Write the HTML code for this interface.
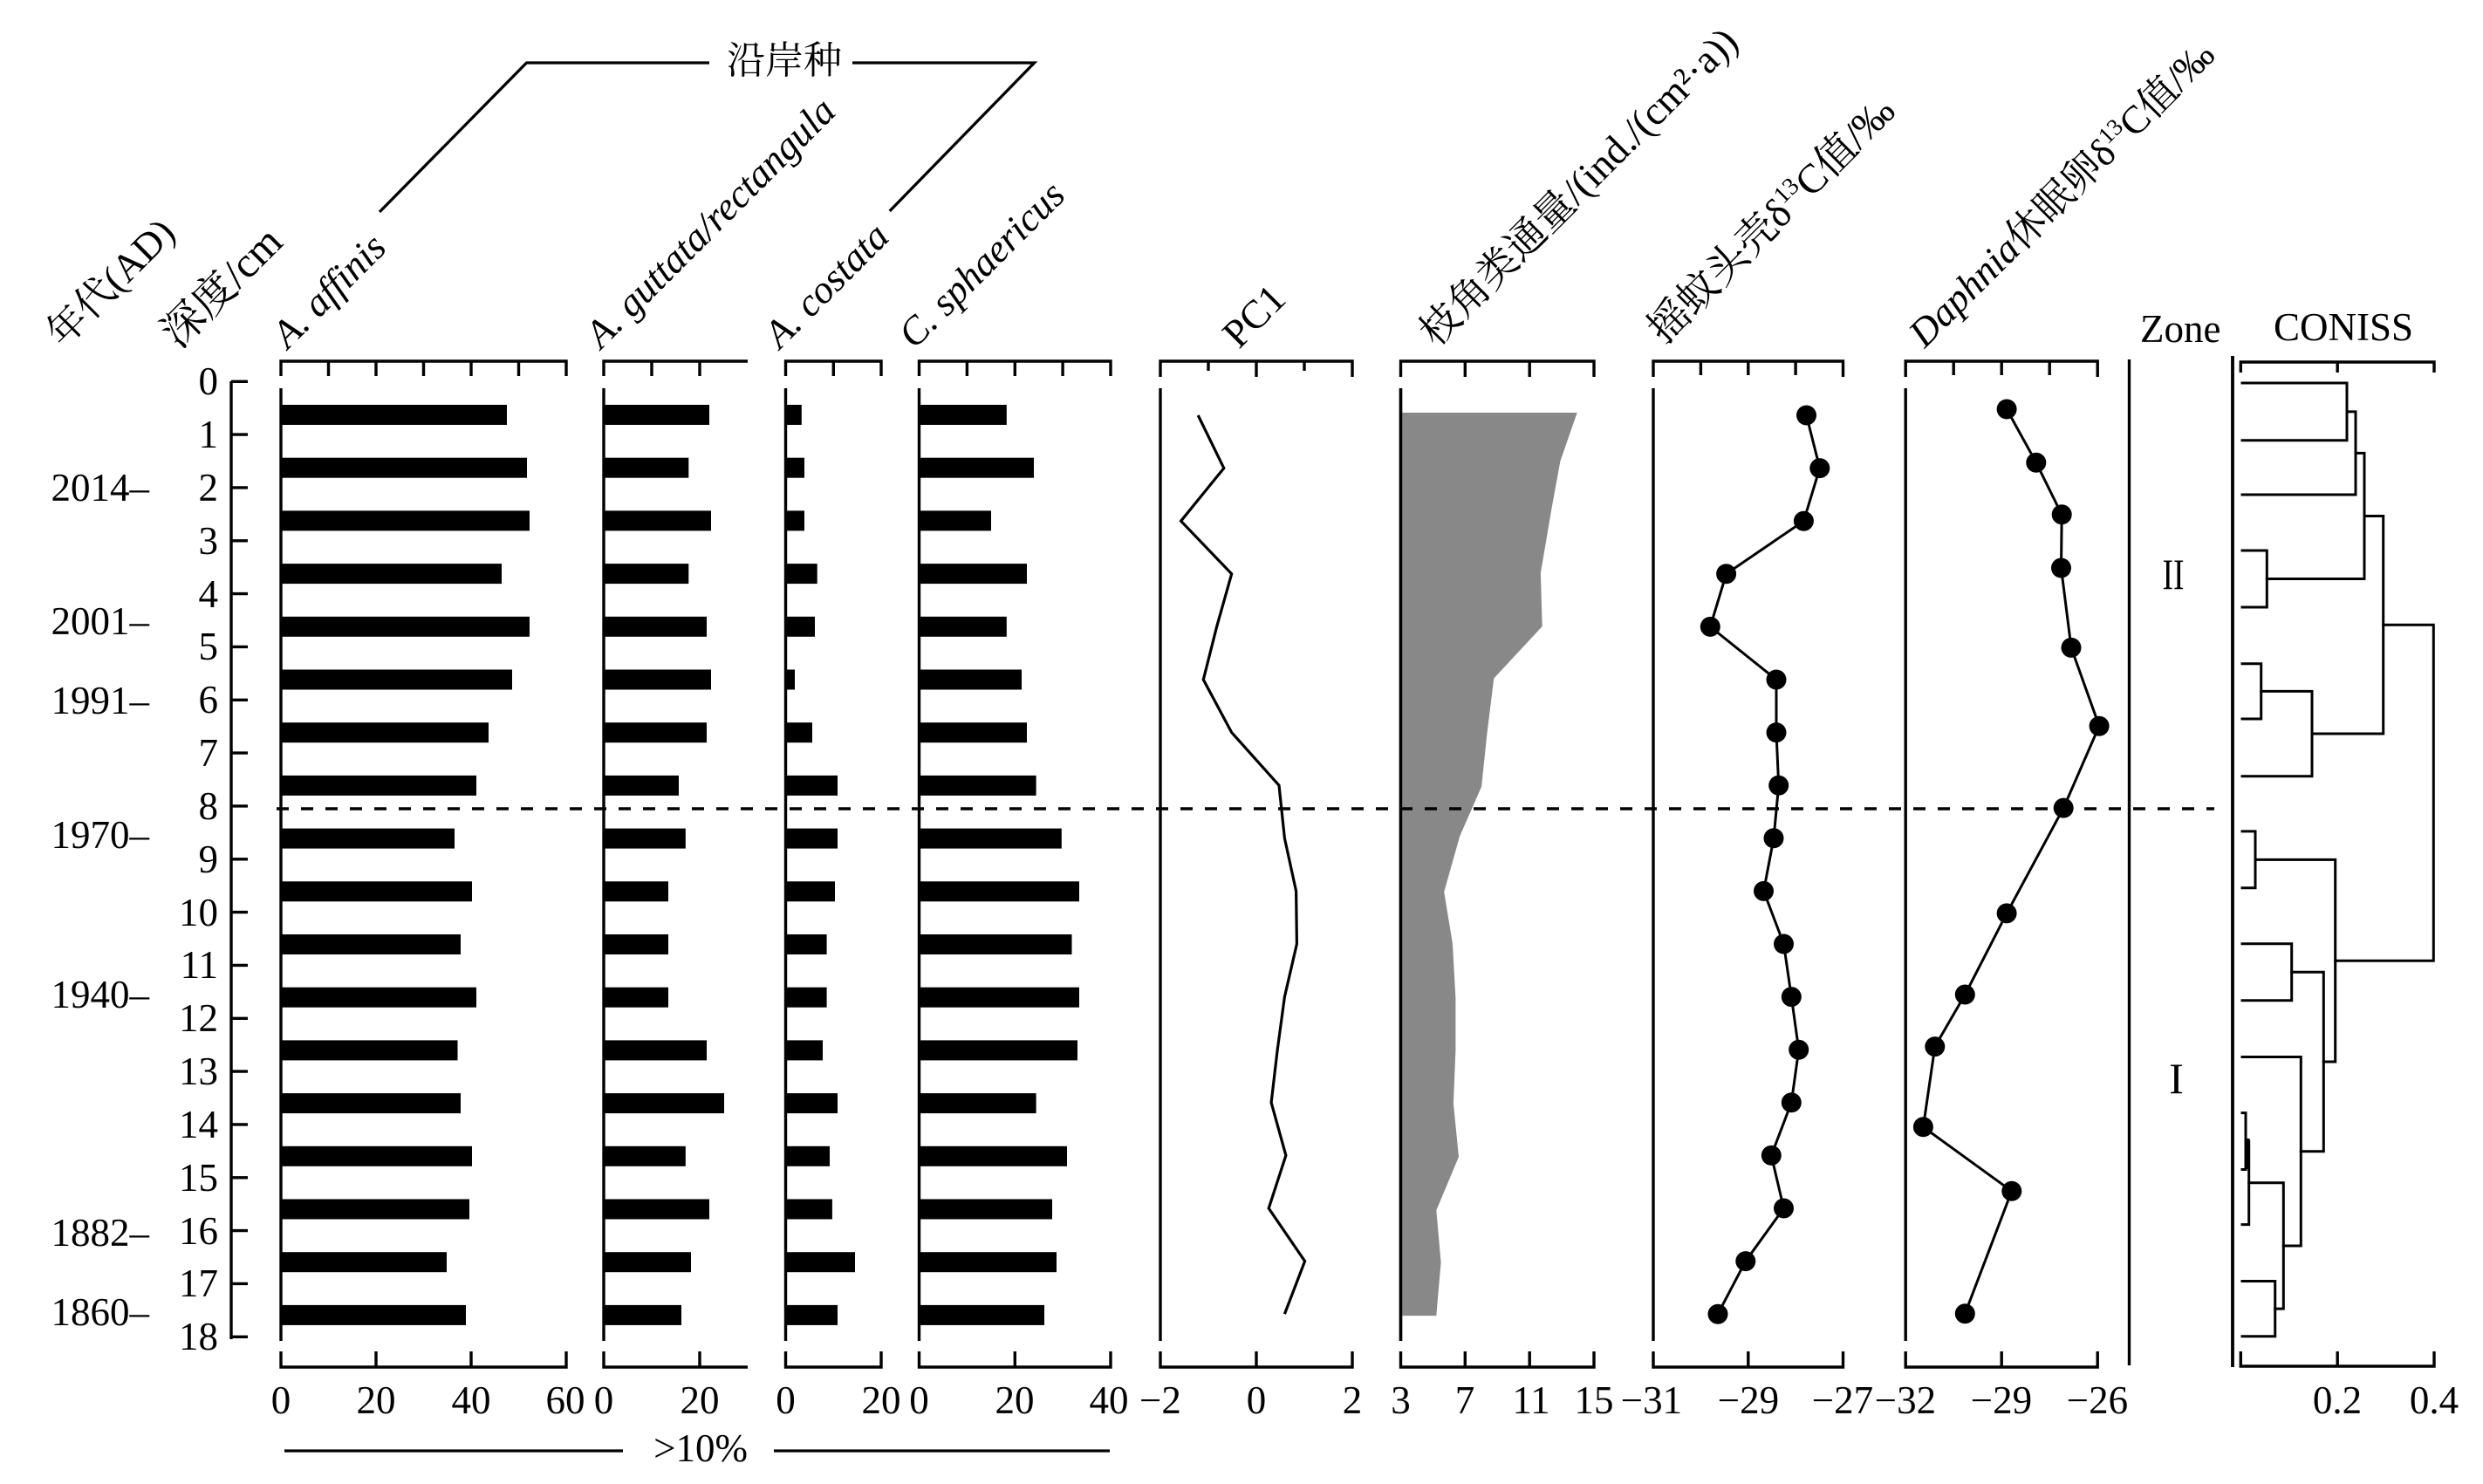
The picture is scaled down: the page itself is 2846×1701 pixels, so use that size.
<!DOCTYPE html>
<html><head><meta charset="utf-8"><style>
html,body{margin:0;padding:0;background:#fff;}
svg{display:block;}
text{font-family:"Liberation Serif","Noto Serif CJK SC",serif;fill:#000;}
</style></head><body>
<svg width="2846" height="1701" viewBox="0 0 2846 1701" xmlns="http://www.w3.org/2000/svg">
<rect width="2846" height="1701" fill="#fff"/>

<!-- 沿岸种 bracket -->
<g stroke="#000" stroke-width="3.3" fill="none">
<polyline points="435,243 603.5,72 813,72"/>
<polyline points="977,72 1185.5,72 1019.7,242"/>
</g>
<text x="899" y="84" font-size="44" text-anchor="middle">沿岸种</text>

<!-- Titles -->
<text transform="translate(72,400) rotate(-45)" font-size="45">年代(AD)</text>
<text transform="translate(205,401) rotate(-45)" font-size="49">深度/cm</text>
<text transform="translate(330,401) rotate(-45)" font-size="45" font-style="italic">A. affinis</text>
<text transform="translate(689,401) rotate(-45)" font-size="45" font-style="italic">A. guttata/rectangula</text>
<text transform="translate(894,401) rotate(-45)" font-size="45" font-style="italic">A. costata</text>
<text transform="translate(1048,401) rotate(-45)" font-size="45" font-style="italic">C. sphaericus</text>
<text transform="translate(1420,401) rotate(-45)" font-size="46">PC1</text>
<text transform="translate(1646,399) rotate(-45)" font-size="46">枝角类通量/(ind./(cm²·a))</text>
<text transform="translate(1908,396) rotate(-45)" font-size="47">摇蚊头壳δ<tspan font-size="28" dy="-18">13</tspan><tspan dy="18">C值/‰</tspan></text>
<text transform="translate(2206,400) rotate(-45)" font-size="45"><tspan font-style="italic">Daphnia</tspan>休眠卵δ<tspan font-size="27" dy="-17">13</tspan><tspan dy="17">C值/‰</tspan></text>
<text x="2453" y="392" font-size="45">Zone</text>
<text x="2606" y="390" font-size="45">CONISS</text>

<!-- Depth axis -->
<g stroke="#000" stroke-width="3.4" fill="none">
<path d="M265 437 V1535"/>
<path d="M265 437.3H284 M265 498.1H284 M265 558.9H284 M265 619.8H284 M265 680.6H284 M265 741.4H284 M265 802.3H284 M265 863.1H284 M265 923.9H284 M265 984.8H284 M265 1045.6H284 M265 1106.4H284 M265 1167.3H284 M265 1228.1H284 M265 1288.9H284 M265 1349.8H284 M265 1410.6H284 M265 1471.4H284 M265 1532.3H284"/>
</g>
<g font-size="45" text-anchor="end">
<text x="250" y="452">0</text><text x="250" y="513">1</text><text x="250" y="574">2</text><text x="250" y="635">3</text>
<text x="250" y="696">4</text><text x="250" y="756">5</text><text x="250" y="817">6</text><text x="250" y="878">7</text>
<text x="250" y="939">8</text><text x="250" y="1000">9</text><text x="250" y="1061">10</text><text x="250" y="1121">11</text>
<text x="250" y="1182">12</text><text x="250" y="1243">13</text><text x="250" y="1304">14</text><text x="250" y="1365">15</text>
<text x="250" y="1426">16</text><text x="250" y="1486">17</text><text x="250" y="1547">18</text>
</g>
<!-- Years -->
<g font-size="45" text-anchor="end">
<text x="171" y="574">2014–</text>
<text x="171" y="727">2001–</text>
<text x="171" y="818">1991–</text>
<text x="171" y="972">1970–</text>
<text x="171" y="1155">1940–</text>
<text x="171" y="1428">1882–</text>
<text x="171" y="1519">1860–</text>
</g>

<!-- Panel frames -->
<g stroke="#000" stroke-width="3.4" fill="none">
<!-- affinis -->
<path d="M322 431 V414 H649 V431 M376.5 414V431 M431 414V431 M485.5 414V431 M540 414V431 M594.5 414V431"/>
<path d="M322 445 V1537"/>
<path d="M322 1549 V1567 H649 V1549 M431 1567V1549 M540 1567V1549"/>
<!-- guttata -->
<path d="M692 431 V414 H857 M747 414V431 M802 414V431"/>
<path d="M692 445 V1537"/>
<path d="M692 1549 V1567 H857 M802 1567V1549"/>
<!-- costata -->
<path d="M900.5 431 V414 H1010 V431 M955.3 414V431"/>
<path d="M900.5 445 V1537"/>
<path d="M900.5 1549 V1567 H1010 V1549"/>
<!-- sphaericus -->
<path d="M1053.5 431 V414 H1273 V431 M1108.4 414V431 M1163.3 414V431 M1218.1 414V431"/>
<path d="M1053.5 445 V1537"/>
<path d="M1053.5 1549 V1567 H1273 V1549 M1163.3 1567V1549"/>
<!-- PC1 -->
<path d="M1330 432 V414 H1550 V432 M1385 414V425 M1440 414V432 M1495 414V425"/>
<path d="M1330 445 V1537"/>
<path d="M1330 1549 V1567 H1550 V1549 M1440 1567V1549"/>
<!-- flux -->
<path d="M1605.5 432 V414 H1827 V432 M1679.3 414V432 M1753.2 414V432"/>
<path d="M1605.5 445 V1537"/>
<path d="M1605.5 1549 V1567 H1827 V1549 M1679.3 1567V1549 M1753.2 1567V1549"/>
<!-- chironomid -->
<path d="M1895 432 V414 H2112.5 V432 M1949.4 414V430 M2003.8 414V430 M2058.1 414V430"/>
<path d="M1895 445 V1537"/>
<path d="M1895 1549 V1567 H2112.5 V1549 M2003.8 1567V1549"/>
<!-- daphnia -->
<path d="M2184.2 432 V414 H2404.2 V432 M2239.2 414V430 M2294.2 414V430 M2349.2 414V430"/>
<path d="M2184.2 445 V1537"/>
<path d="M2184.2 1549 V1567 H2404.2 V1549 M2294.2 1567V1549"/>
<!-- zone -->
<path d="M2440.5 412 V1565"/>
<!-- coniss -->
<path d="M2568.3 427 V415 H2790 V427 M2679.2 415V427"/>
<path d="M2568.3 1549 V1566 H2790 V1549 M2679.2 1566V1549"/>
</g>
<path d="M2559 408 V1567" stroke="#000" stroke-width="3.8"/>

<!-- Bottom tick labels -->
<g font-size="45" text-anchor="middle">
<text x="322" y="1620">0</text><text x="431" y="1620">20</text><text x="540" y="1620">40</text><text x="648" y="1620">60</text>
<text x="692" y="1620">0</text><text x="802" y="1620">20</text>
<text x="900.5" y="1620">0</text><text x="1010" y="1620">20</text>
<text x="1053.5" y="1620">0</text><text x="1163" y="1620">20</text><text x="1271" y="1620">40</text>
<text x="1330" y="1620">−2</text><text x="1440" y="1620">0</text><text x="1550" y="1620">2</text>
<text x="1605.5" y="1620">3</text><text x="1679" y="1620">7</text><text x="1755" y="1620">11</text><text x="1827" y="1620">15</text>
<text x="1893" y="1620">−31</text><text x="2004" y="1620">−29</text><text x="2112" y="1620">−27</text>
<text x="2184" y="1620">−32</text><text x="2294" y="1620">−29</text><text x="2404" y="1620">−26</text>
<text x="2679" y="1620">0.2</text><text x="2790" y="1620">0.4</text>
</g>

<!-- >10% -->
<g stroke="#000" stroke-width="3.3">
<path d="M326 1663 H714 M887 1663 H1272"/>
</g>
<text x="803" y="1675" font-size="45" text-anchor="middle">&gt;10%</text>

<!-- Bars: affinis -->
<g fill="#000">
<rect x="322" y="464" width="259" height="23"/>
<rect x="322" y="524.7" width="282" height="23"/>
<rect x="322" y="585.4" width="285" height="23"/>
<rect x="322" y="646.1" width="253" height="23"/>
<rect x="322" y="706.8" width="285" height="23"/>
<rect x="322" y="767.5" width="265" height="23"/>
<rect x="322" y="828.2" width="238" height="23"/>
<rect x="322" y="888.9" width="224" height="23"/>
<rect x="322" y="949.6" width="199" height="23"/>
<rect x="322" y="1010.3" width="219" height="23"/>
<rect x="322" y="1071" width="206" height="23"/>
<rect x="322" y="1131.7" width="224" height="23"/>
<rect x="322" y="1192.4" width="202.5" height="23"/>
<rect x="322" y="1253.1" width="206" height="23"/>
<rect x="322" y="1313.8" width="219" height="23"/>
<rect x="322" y="1374.5" width="216" height="23"/>
<rect x="322" y="1435.2" width="190" height="23"/>
<rect x="322" y="1495.9" width="212" height="23"/>
<!-- guttata -->
<rect x="692" y="464" width="121" height="23"/>
<rect x="692" y="524.7" width="97.3" height="23"/>
<rect x="692" y="585.4" width="123" height="23"/>
<rect x="692" y="646.1" width="97.3" height="23"/>
<rect x="692" y="706.8" width="118" height="23"/>
<rect x="692" y="767.5" width="123" height="23"/>
<rect x="692" y="828.2" width="118" height="23"/>
<rect x="692" y="888.9" width="86" height="23"/>
<rect x="692" y="949.6" width="93.8" height="23"/>
<rect x="692" y="1010.3" width="74" height="23"/>
<rect x="692" y="1071" width="74" height="23"/>
<rect x="692" y="1131.7" width="74" height="23"/>
<rect x="692" y="1192.4" width="118" height="23"/>
<rect x="692" y="1253.1" width="138" height="23"/>
<rect x="692" y="1313.8" width="93.8" height="23"/>
<rect x="692" y="1374.5" width="121" height="23"/>
<rect x="692" y="1435.2" width="100" height="23"/>
<rect x="692" y="1495.9" width="89" height="23"/>
<!-- costata -->
<rect x="900.5" y="464" width="18.3" height="23"/>
<rect x="900.5" y="524.7" width="21.5" height="23"/>
<rect x="900.5" y="585.4" width="21.5" height="23"/>
<rect x="900.5" y="646.1" width="36.2" height="23"/>
<rect x="900.5" y="706.8" width="33.5" height="23"/>
<rect x="900.5" y="767.5" width="10.5" height="23"/>
<rect x="900.5" y="828.2" width="30.5" height="23"/>
<rect x="900.5" y="888.9" width="59.5" height="23"/>
<rect x="900.5" y="949.6" width="59.5" height="23"/>
<rect x="900.5" y="1010.3" width="56.5" height="23"/>
<rect x="900.5" y="1071" width="47.1" height="23"/>
<rect x="900.5" y="1131.7" width="47.1" height="23"/>
<rect x="900.5" y="1192.4" width="42.5" height="23"/>
<rect x="900.5" y="1253.1" width="59.5" height="23"/>
<rect x="900.5" y="1313.8" width="50.5" height="23"/>
<rect x="900.5" y="1374.5" width="53.4" height="23"/>
<rect x="900.5" y="1435.2" width="79.5" height="23"/>
<rect x="900.5" y="1495.9" width="59.5" height="23"/>
<!-- sphaericus -->
<rect x="1053.5" y="464" width="100.3" height="23"/>
<rect x="1053.5" y="524.7" width="131.5" height="23"/>
<rect x="1053.5" y="585.4" width="82.5" height="23"/>
<rect x="1053.5" y="646.1" width="123.5" height="23"/>
<rect x="1053.5" y="706.8" width="100.3" height="23"/>
<rect x="1053.5" y="767.5" width="117.5" height="23"/>
<rect x="1053.5" y="828.2" width="123.5" height="23"/>
<rect x="1053.5" y="888.9" width="134.1" height="23"/>
<rect x="1053.5" y="949.6" width="163.3" height="23"/>
<rect x="1053.5" y="1010.3" width="183.5" height="23"/>
<rect x="1053.5" y="1071" width="175" height="23"/>
<rect x="1053.5" y="1131.7" width="183.5" height="23"/>
<rect x="1053.5" y="1192.4" width="181.5" height="23"/>
<rect x="1053.5" y="1253.1" width="134.1" height="23"/>
<rect x="1053.5" y="1313.8" width="169.5" height="23"/>
<rect x="1053.5" y="1374.5" width="152.5" height="23"/>
<rect x="1053.5" y="1435.2" width="157.5" height="23"/>
<rect x="1053.5" y="1495.9" width="143.5" height="23"/>
</g>

<!-- PC1 line -->
<polyline fill="none" stroke="#000" stroke-width="3.2" stroke-linejoin="miter"
points="1373.2,476 1402.8,536.6 1353.6,597.2 1411.7,657.8 1394.6,718.4 1379.3,779 1411.7,839.6 1466,900.2 1472.4,960.8 1485.6,1021.4 1486.4,1082 1472.4,1142.6 1464.2,1203.2 1457.1,1263.8 1473.9,1324.4 1454.2,1385 1495.6,1445.6 1472.4,1506.2"/>

<!-- Flux area -->
<polygon fill="#888888" points="1605.5,473 1807.7,473 1788.4,528.6 1778.4,583.3 1765.9,656.7 1767.7,718 1712.3,777.5 1704.5,840.4 1698.1,901.6 1673.1,958.8 1655.2,1022.4 1664.9,1081.2 1668.4,1144 1668.4,1203.6 1665.9,1264.9 1672,1326 1646.3,1387.3 1651.6,1446.9 1646.3,1508.1 1605.5,1508.1"/>
<path d="M1605.5 445 V1537" stroke="#000" stroke-width="3.4"/>

<!-- Chironomid d13C -->
<polyline fill="none" stroke="#000" stroke-width="3"
points="2070.5,476 2085.8,536.6 2067.4,597.2 1978.6,657.8 1960.3,718.4 2036,779 2036,839.6 2038.7,900.2 2033,960.8 2021.5,1021.4 2044.5,1082 2053.3,1142.6 2061.7,1203.2 2053.3,1263.8 2030.3,1324.4 2044.5,1385 2000.8,1445.6 1969,1506.2"/>
<g fill="#000">
<circle cx="2070.5" cy="476" r="11.5"/><circle cx="2085.8" cy="536.6" r="11.5"/><circle cx="2067.4" cy="597.2" r="11.5"/>
<circle cx="1978.6" cy="657.8" r="11.5"/><circle cx="1960.3" cy="718.4" r="11.5"/><circle cx="2036" cy="779" r="11.5"/>
<circle cx="2036" cy="839.6" r="11.5"/><circle cx="2038.7" cy="900.2" r="11.5"/><circle cx="2033" cy="960.8" r="11.5"/>
<circle cx="2021.5" cy="1021.4" r="11.5"/><circle cx="2044.5" cy="1082" r="11.5"/><circle cx="2053.3" cy="1142.6" r="11.5"/>
<circle cx="2061.7" cy="1203.2" r="11.5"/><circle cx="2053.3" cy="1263.8" r="11.5"/><circle cx="2030.3" cy="1324.4" r="11.5"/>
<circle cx="2044.5" cy="1385" r="11.5"/><circle cx="2000.8" cy="1445.6" r="11.5"/><circle cx="1969" cy="1506.2" r="11.5"/>
</g>

<!-- Daphnia d13C -->
<polyline fill="none" stroke="#000" stroke-width="3"
points="2300.1,469 2333.8,530.2 2363.2,589.8 2362.5,651 2374,742.4 2406.1,832.2 2365.2,926.1 2300.1,1046.9 2252.3,1140 2217.8,1199.6 2204.4,1291.8 2305.8,1365.3 2252.3,1505.7"/>
<g fill="#000">
<circle cx="2300.1" cy="469" r="11.5"/><circle cx="2333.8" cy="530.2" r="11.5"/><circle cx="2363.2" cy="589.8" r="11.5"/>
<circle cx="2362.5" cy="651" r="11.5"/><circle cx="2374" cy="742.4" r="11.5"/><circle cx="2406.1" cy="832.2" r="11.5"/>
<circle cx="2365.2" cy="926.1" r="11.5"/><circle cx="2300.1" cy="1046.9" r="11.5"/><circle cx="2252.3" cy="1140" r="11.5"/>
<circle cx="2217.8" cy="1199.6" r="11.5"/><circle cx="2204.4" cy="1291.8" r="11.5"/><circle cx="2305.8" cy="1365.3" r="11.5"/>
<circle cx="2252.3" cy="1505.7" r="11.5"/>
</g>

<!-- Zone labels -->
<text x="2491" y="675" font-size="50" text-anchor="middle" textLength="25" lengthAdjust="spacingAndGlyphs">II</text>
<text x="2494.5" y="1253" font-size="50" text-anchor="middle">I</text>

<!-- CONISS dendrogram -->
<g stroke="#000" stroke-width="3" fill="none" stroke-linecap="square">
<path d="M2570 439 H2690 V504.7 H2570"/>
<path d="M2690 471.9 H2700 V567 H2570"/>
<path d="M2570 631 H2598.3 V696 H2570"/>
<path d="M2700 519.4 H2710 V663.5 H2598.3"/>
<path d="M2570 760.8 H2591.7 V824 H2570"/>
<path d="M2591.7 792.4 H2650 V889.7 H2570"/>
<path d="M2710 591.5 H2731.7 V841 H2650"/>
<path d="M2570 952.9 H2585 V1017.8 H2570"/>
<path d="M2570 1081.8 H2626.7 V1146.7 H2570"/>
<path d="M2570 1275.6 H2574 V1340.5 H2570"/>
<path d="M2574 1308 H2577.7 V1403.6 H2570"/>
<path d="M2570 1468.5 H2607.7 V1531.7 H2570"/>
<path d="M2577.7 1355.8 H2617.3 V1500.1 H2607.7"/>
<path d="M2570 1211.5 H2637.3 V1428 H2617.3"/>
<path d="M2626.7 1114.3 H2663.3 V1319.7 H2637.3"/>
<path d="M2585 985.4 H2676.7 V1217 H2663.3"/>
<path d="M2731.7 716.3 H2789.3 V1101.2 H2676.7"/>
</g>
<path d="M2576 1305 V1340" stroke="#000" stroke-width="5"/>

<!-- Dashed zone boundary -->
<path d="M317 927 H2538" stroke="#000" stroke-width="3.6" stroke-dasharray="14 14"/>
</svg>
</body></html>
